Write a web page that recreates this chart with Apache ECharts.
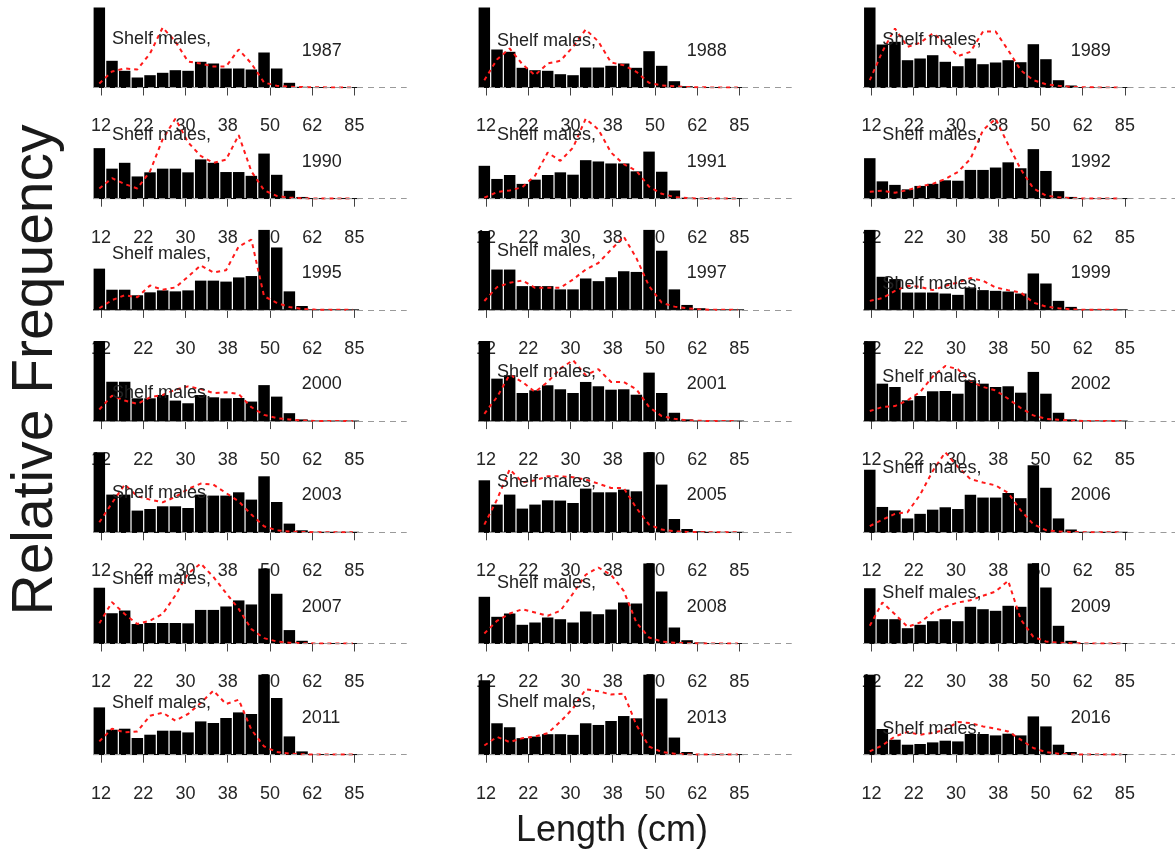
<!DOCTYPE html>
<html>
<head>
<meta charset="utf-8">
<script src="https://cdn.jsdelivr.net/npm/echarts@6/dist/echarts.min.js"></script>
<style>html,body{margin:0;padding:0;background:#fff;}#chart{width:1175px;height:856px;}</style>
</head>
<body>
<div id="chart"></div>
<script>
// ---- data ----
const years = ['1987','1988','1989','1990','1991','1992','1995','1997','1999','2000','2001','2002','2003','2005','2006','2007','2008','2009','2011','2013','2016'];
const lengthTicks = ['12','22','30','38','50','62','85'];
const panelLabel = 'Shelf males,';

const obs1987 = [80, 26.7, 16.7, 10, 12.3, 14.7, 17.3, 16.7, 25.7, 24, 19, 19, 18, 35, 19, 4.7, 0.7, 0, 0, 0, 0];
const fit1987 = [4, 16, 19, 18, 34, 60, 46, 26, 24, 21, 21, 38, 24, 5, 1.7, 0.8, 0.4, 0.2, 0.1, 0.1, 0.1];
const obs1988 = [80, 38, 35.7, 19.7, 17.3, 16.7, 13.3, 12.3, 20, 20, 21.7, 24, 19.7, 36.3, 21.7, 6.3, 1.3, 0, 0, 0, 0];
const fit1988 = [7.3, 28, 39, 23.3, 12.3, 24, 26.7, 40.7, 58, 46, 25, 22.3, 15.7, 4.7, 2, 1.3, 0.5, 0.2, 0.1, 0.1, 0.1];
const obs1989 = [80, 43, 45.7, 27.3, 29, 32.3, 25.7, 21.3, 29, 23.3, 25, 27.3, 25.3, 43.3, 28.3, 7.3, 2, 0, 0, 0, 0];
const fit1989 = [7.3, 36, 59, 40.7, 44.7, 54, 45.7, 31.3, 35.7, 56, 56, 37.3, 17.3, 7.3, 3.3, 1.7, 0.7, 0.3, 0.1, 0.1, 0.1];
const obs1990 = [49.3, 29.3, 35, 21.7, 25.7, 29.3, 29.3, 25.7, 38.3, 35, 26, 26, 22.3, 44, 23.3, 7.7, 1.7, 0, 0, 0, 0];
const fit1990 = [10, 20, 14.3, 10, 26.7, 58, 78, 55, 41.7, 35, 38, 62, 26.7, 8.3, 2.7, 1, 0.4, 0.2, 0.1, 0.1, 0.1];
const obs1991 = [33.3, 20, 24, 15, 19.3, 24, 26.7, 24.3, 39, 37.7, 35.7, 35.7, 27.7, 47.7, 27.3, 8.3, 1, 0, 0, 0, 0];
const fit1991 = [1, 6.7, 8.3, 11.7, 23.3, 46.7, 38.3, 51.7, 81, 70, 46.7, 35, 28.3, 12.3, 5, 1.7, 0.6, 0.2, 0.1, 0.1, 0.1];
const obs1992 = [39, 16.7, 13.3, 9, 12.3, 14.3, 17.7, 17.3, 27.7, 27.7, 30, 35, 29.3, 47.7, 26.7, 7.3, 1.7, 0, 0, 0, 0];
const fit1992 = [6.7, 7.7, 5.7, 8.3, 11.7, 14.3, 19, 25.7, 38.3, 66, 77, 52, 28.3, 10, 3, 1.3, 0.5, 0.2, 0.1, 0.1, 0.1];
const obs1995 = [42.3, 20.7, 20.7, 15, 18, 20, 19, 20, 30, 30, 29, 33.3, 34.7, 82, 64, 19, 4, 0, 0, 0, 0];
const fit1995 = [1.7, 10, 15, 13, 25, 20.7, 23, 34, 45.7, 38.3, 40.7, 65, 72, 14, 7.3, 3, 1, 0.3, 0.1, 0.1, 0.1];
const obs1997 = [79.7, 40.7, 40.7, 24, 24, 24, 20.7, 20.7, 31.7, 29, 33, 39, 38.3, 80.7, 59.7, 20.7, 5, 1.7, 0, 0, 0];
const fit1997 = [9, 23, 27.3, 29.7, 22.3, 22.3, 22.3, 30.7, 40.7, 47.3, 60.7, 74, 52.3, 24, 7.3, 3.3, 1.7, 0.5, 0.2, 0.1, 0.1];
const obs1999 = [79.7, 33, 30.7, 17.3, 17.3, 17.3, 16.3, 15, 22.3, 19.7, 19, 18.3, 16.3, 36.3, 26.3, 9, 3, 0, 0, 0, 0];
const fit1999 = [9, 11.7, 19, 24, 23, 19.7, 24, 27.3, 31.7, 29, 22.3, 19.7, 17.3, 7.3, 3.3, 1.7, 0.6, 0.2, 0.1, 0.1, 0.1];
const obs2000 = [80.7, 39.7, 39.7, 23, 23, 26.3, 20.7, 18, 26.3, 24, 23, 23.3, 19.7, 36.3, 24.7, 8, 1.7, 0, 0, 0, 0];
const fit2000 = [11.7, 25.7, 20.7, 17.3, 24, 26.3, 31.7, 35, 32.3, 28.3, 29, 27.3, 14, 6.3, 3, 1.7, 0.6, 0.2, 0.1, 0.1, 0.1];
const obs2001 = [79.7, 42.3, 45.7, 28, 30.7, 35.7, 31.7, 28, 39, 34.7, 31.3, 31.7, 26.3, 48.3, 28, 8.3, 1.7, 0, 0, 0, 0];
const fit2001 = [7.3, 24, 46.3, 39, 29, 39, 52.3, 60.7, 45.7, 51.7, 39, 39, 31.7, 14, 5, 2.3, 0.8, 0.3, 0.1, 0.1, 0.1];
const obs2002 = [79.7, 37.3, 34, 20.7, 25, 29.7, 30, 27.3, 40.7, 37.3, 34, 34.7, 28.3, 49, 27.3, 8.3, 1.7, 0, 0, 0, 0];
const fit2002 = [10, 14, 15, 20.7, 29, 44.3, 55, 51.7, 39.7, 34, 30.7, 22.3, 13, 5.7, 2.3, 1.3, 0.5, 0.2, 0.1, 0.1, 0.1];
const obs2003 = [80, 37.7, 37.7, 21.7, 23.3, 26, 26, 24.3, 37.7, 36.7, 36.7, 40, 32.7, 56, 30.3, 8.7, 2, 0, 0, 0, 0];
const fit2003 = [10, 29.3, 47.7, 36, 32.7, 30, 35.3, 43.3, 48.7, 47.7, 39.3, 31, 17.7, 6, 2, 0.8, 0.3, 0.1, 0.1, 0.1, 0.1];
const obs2005 = [52, 27.7, 37.7, 23.7, 27.7, 32, 31.7, 29.3, 43.7, 40, 40, 42.7, 41, 80, 47.7, 13.3, 3.3, 1, 0, 0, 0];
const fit2005 = [7.7, 32.7, 63, 50, 52, 56, 56, 55, 52.7, 48.7, 44.3, 44.3, 24.3, 7.7, 2.7, 1, 0.4, 0.2, 0.1, 0.1, 0.1];
const obs2006 = [60, 24.3, 21, 13.3, 17.7, 21.7, 24, 22.3, 36, 33.3, 33.3, 37.7, 32.7, 64.3, 42.7, 13.3, 2.7, 0, 0, 0, 0];
const fit2006 = [6, 12, 17.7, 19.3, 36, 58.7, 76.7, 62.7, 51, 47.7, 45, 37.7, 21, 7.7, 2, 0.8, 0.3, 0.1, 0.1, 0.1, 0.1];
const obs2007 = [55.3, 30, 32.7, 19.3, 20.3, 20.3, 20.3, 20, 33.3, 33.3, 36.7, 42.7, 38.7, 74.3, 49.3, 13.3, 2.7, 0, 0, 0, 0];
const fit2007 = [20, 41, 29.3, 19.3, 22.7, 29.3, 47.7, 69.3, 79.3, 66, 50, 34.3, 14.3, 5.3, 2, 0.8, 0.3, 0.1, 0.1, 0.1, 0.1];
const obs2008 = [46.7, 26.7, 30, 18.7, 21, 26, 24.3, 21, 32, 29.3, 34, 41, 40, 80, 52, 16, 3.3, 1, 0, 0, 0];
const fit2008 = [10, 22.7, 30, 34.3, 31, 27.7, 32.7, 50, 68.7, 76, 68.7, 52.7, 21, 6, 2, 0.8, 0.3, 0.1, 0.1, 0.1, 0.1];
const obs2009 = [55.3, 24.3, 24.3, 15.3, 18.7, 22.3, 24.3, 22.3, 36.7, 34.3, 32.7, 37.7, 36.7, 80, 56, 17.7, 2.7, 0, 0, 0, 0];
const fit2009 = [17.7, 41, 29.3, 16.7, 21, 31, 36.7, 41, 43.3, 47.7, 52, 62.7, 24, 6.7, 2, 0.8, 0.3, 0.1, 0.1, 0.1, 0.1];
const obs2011 = [47.3, 25, 26, 16.7, 20, 24, 24, 22.3, 33.3, 31.7, 36.7, 42.3, 40.7, 80, 56.7, 18.3, 3.3, 0, 0, 0, 0];
const fit2011 = [13.3, 26, 22.3, 23.3, 39, 42, 34, 40.7, 51.7, 64, 50.7, 55, 25, 8.3, 2.7, 1, 0.4, 0.1, 0.1, 0.1, 0.1];
const obs2013 = [75, 31.7, 27.7, 16.7, 18.3, 20.7, 20.7, 20, 31.7, 30, 34, 39, 36.7, 80.7, 56.7, 17.3, 2.7, 0, 0, 0, 0];
const fit2013 = [9.3, 18, 12.7, 16.7, 18.3, 21.7, 33.3, 46.7, 66, 64, 60.7, 61.7, 30, 8.3, 2.7, 1, 0.4, 0.1, 0.1, 0.1, 0.1];
const obs2016 = [80, 25.7, 15, 10, 10.7, 12.3, 14, 13.3, 20.7, 20.7, 19.3, 21, 19.3, 38.3, 28.3, 10, 2.7, 0, 0, 0, 0];
const fit2016 = [3.3, 9.3, 18.3, 22.7, 20, 21.7, 25, 32.7, 31.7, 28.3, 26, 23.3, 15, 6.7, 2.7, 1, 0.4, 0.1, 0.1, 0.1, 0.1];

const observed = [obs1987, obs1988, obs1989, obs1990, obs1991, obs1992, obs1995, obs1997, obs1999, obs2000, obs2001, obs2002, obs2003, obs2005, obs2006, obs2007, obs2008, obs2009, obs2011, obs2013, obs2016];
const fitted = [fit1987, fit1988, fit1989, fit1990, fit1991, fit1992, fit1995, fit1997, fit1999, fit2000, fit2001, fit2002, fit2003, fit2005, fit2006, fit2007, fit2008, fit2009, fit2011, fit2013, fit2016];

// ---- layout ----
const FONT = '"Liberation Sans", Arial, Helvetica, sans-serif';
const pitch = 12.67;
const colLeft = [93, 478, 863.5];
const base0 = 87.5, rowStep = 111.2, plotH = 80;
const span = 24.76;        // plot width in bin units
const tickStart = 0.63;    // first tick position in bin units
const tickSpan = 20;       // bins between first and last tick

const grid = [], xAxis = [], yAxis = [], series = [];
years.forEach((yr, k) => {
  const r = Math.floor(k / 3), c = k % 3;
  const base = base0 + rowStep * r;
  const obs = observed[k], fit = fitted[k];
  const ymax = Math.max(Math.max(...obs), Math.max(...fit));
  const gA = 2 * k, gB = 2 * k + 1;
  grid.push({ left: colLeft[c], top: base - plotH, width: span * pitch, height: plotH });
  grid.push({ left: colLeft[c] + tickStart * pitch, top: base - plotH, width: tickSpan * pitch, height: plotH });
  xAxis.push({ gridIndex: gA, type: 'value', min: 0, max: span, show: false });
  yAxis.push({ gridIndex: gA, type: 'value', min: 0, max: ymax, show: false });
  xAxis.push({
    gridIndex: gB, type: 'value', min: 0, max: lengthTicks.length - 1, interval: 1, offset: 4,
    axisLine: { show: false },
    axisTick: { show: true, length: 8, lineStyle: { color: '#444', width: 1 } },
    splitLine: { show: false },
    axisLabel: { formatter: v => lengthTicks[v], margin: 26, fontSize: 18, color: '#262626', fontFamily: FONT, hideOverlap: false }
  });
  yAxis.push({ gridIndex: gB, type: 'value', show: false });

  // gray dashed zero line across the whole panel
  series.push({
    type: 'line', xAxisIndex: gA, yAxisIndex: gA, data: [], z: 1, silent: true,
    markLine: { silent: true, symbol: 'none', label: { show: false }, animation: false,
      lineStyle: { color: '#9a9a9a', type: [6, 5], width: 1 }, data: [{ yAxis: 0 }] }
  });
  // black base line under the bins
  series.push({
    type: 'line', xAxisIndex: gA, yAxisIndex: gA, z: 2, silent: true, showSymbol: false,
    lineStyle: { color: '#111', width: 1.2 }, data: [[0, 0], [obs.length, 0]]
  });
  series.push({
    type: 'bar', xAxisIndex: gA, yAxisIndex: gA, z: 3, silent: true,
    barWidth: pitch - 1.2, itemStyle: { color: '#000' },
    data: obs.map((v, i) => [i + 0.5, v])
  });
  series.push({
    type: 'line', xAxisIndex: gA, yAxisIndex: gA, z: 4, silent: true, showSymbol: false,
    lineStyle: { color: '#ff1a1a', width: 2, type: [4, 4] },
    data: fit.map((v, i) => [i + 0.5, v])
  });
  const texts = [panelLabel, yr];
  series.push({
    type: 'custom', xAxisIndex: gA, yAxisIndex: gA, z: 5, silent: true,
    data: [[1.5, 0.8 * Math.max(...fit)], [16.47, 0.46 * ymax]],
    renderItem: (params, api) => {
      const p = api.coord([api.value(0), api.value(1)]);
      return { type: 'text', x: p[0], y: p[1],
        style: { text: texts[params.dataIndex], font: '18px ' + FONT, fill: '#222',
          align: 'left', verticalAlign: 'middle', textAlign: 'left', textVerticalAlign: 'middle' } };
    }
  });
});

const chart = echarts.init(document.getElementById('chart'), null, { renderer: 'canvas' });
chart.setOption({
  animation: false,
  backgroundColor: '#ffffff',
  grid, xAxis, yAxis, series,
  graphic: [
    { type: 'text', x: 36, y: 370, rotation: Math.PI / 2,
      style: { text: 'Relative Frequency', font: '57px ' + FONT, fill: '#1a1a1a', align: 'center', verticalAlign: 'middle', textAlign: 'center', textVerticalAlign: 'middle' } },
    { type: 'text', x: 612, y: 831,
      style: { text: 'Length (cm)', font: '36px ' + FONT, fill: '#1a1a1a', align: 'center', verticalAlign: 'middle', textAlign: 'center', textVerticalAlign: 'middle' } }
  ]
});
</script>
</body>
</html>
